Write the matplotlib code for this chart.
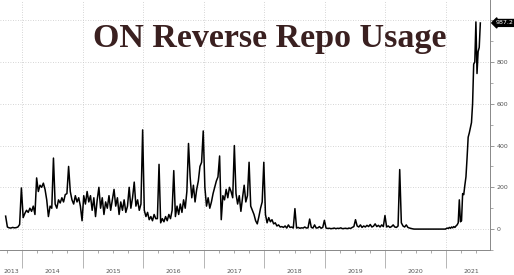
import numpy as np
import matplotlib.pyplot as plt

# ON RRP usage ($bn), roughly every 10 days
vals_2013 = [62, 10, 6, 5, 8, 6, 7, 10, 22, 197]
vals_2014 = [55, 75, 90, 80, 100, 85, 110, 70, 245, 180, 210, 200, 220, 190,
             140, 60, 110, 100, 340, 120, 100, 140, 125, 150, 130, 165, 170,
             300, 180, 140, 120, 160, 130, 150, 110, 40]
vals_2015 = [160, 120, 180, 130, 160, 90, 150, 60, 140, 200, 100, 150, 70, 130,
             100, 160, 90, 140, 190, 110, 150, 70, 130, 90, 140, 80, 110, 200,
             100, 150, 225, 110, 140, 90, 120, 475]
vals_2016 = [90, 60, 80, 45, 60, 40, 70, 50, 50, 310, 30, 50, 35, 60, 40, 70,
             50, 90, 280, 60, 110, 70, 120, 80, 140, 100, 180, 410, 250, 150,
             210, 130, 190, 230, 300, 320, 470]
vals_2017 = [200, 110, 150, 100, 130, 170, 200, 230, 250, 350, 45, 160, 140,
             190, 150, 200, 180, 150, 400, 170, 120, 160, 85, 150, 210, 130,
             160, 320, 110, 90, 70, 40, 25, 60, 100, 130, 320]
vals_2018 = [70, 30, 55, 35, 45, 25, 30, 15, 20, 10, 12, 8, 15, 5, 20, 8, 10,
             5, 98, 5, 8, 4, 6, 5, 10, 5, 6, 48, 8, 5, 20, 5, 6, 12, 4, 8, 42]
vals_2019 = [5, 3, 4, 2, 3, 5, 2, 4, 3, 6, 2, 3, 4, 2, 5, 3, 8, 12, 45, 15, 10,
             20, 8, 15, 10, 18, 12, 22, 10, 14, 25, 12, 18, 10, 20, 12, 65]
vals_2020 = [10, 15, 8, 12, 20, 10, 8, 15, 285, 30, 15, 10, 20, 8, 5, 3, 1,
             0, 0, 0, 0, 0, 0, 0, 0, 0, 0, 0, 0, 0, 0, 0, 0, 0, 0, 0, 0]
vals_2021 = [2, 5, 3, 8, 4, 10, 6, 12, 8, 15, 20, 30, 140, 35, 40, 170, 165,
             210, 250, 340, 440, 460, 485, 510, 600, 790, 800, 992, 745, 850,
             870, 987]

years = [2014, 2015, 2016, 2017, 2018, 2019, 2020]
full_years = [vals_2014, vals_2015, vals_2016, vals_2017, vals_2018,
              vals_2019, vals_2020]

dates = [np.linspace(2013.73, 2013.99, len(vals_2013))]
for y, v in zip(years, full_years):
    dates.append(y + (np.arange(len(v)) + 0.7) / len(v))
dates.append(np.linspace(2021.0, 2021.566, len(vals_2021)))
x = np.concatenate(dates)
y = np.concatenate([vals_2013] + full_years + [vals_2021])

last_value = 987.2
x0, x1 = 2013.637, 2021.723

fig = plt.figure(figsize=(5.14, 2.75), dpi=100)
ax = fig.add_axes([0.0, 0.091, 0.953, 0.909])

ax.plot(x, y, color="black", lw=1.1, zorder=3)
ax.set_xlim(x0, x1)
ax.set_ylim(-100, 1097)

# grid
for yr in range(2014, 2022):
    ax.axvline(yr, color="#c8c8c8", lw=0.6, ls=(0, (1, 2)), zorder=1)
for v in range(0, 1001, 200):
    ax.axhline(v, color="#c8c8c8", lw=0.6, ls=(0, (1, 2)), zorder=1)

for s in ["left", "top"]:
    ax.spines[s].set_visible(False)
for s in ["right", "bottom"]:
    ax.spines[s].set_color("#888888")
    ax.spines[s].set_linewidth(0.7)

# y axis on right
ax.yaxis.tick_right()
ax.set_yticks(range(0, 1001, 200))
ax.set_yticklabels(["0", "200", "400", "600", "800", ""])
ax.set_yticks(range(-100, 1001, 100), minor=True)
ax.tick_params(axis="y", which="major", length=3, width=0.6, color="#888888",
               labelsize=4.5, labelcolor="#555555", pad=2)
ax.tick_params(axis="y", which="minor", length=2, width=0.5, color="#888888")

# x axis: year separators + quarter ticks, labels centred in each year
ax.set_xticks(range(2014, 2022))
ax.set_xticklabels([])
ax.set_xticks([q for q in np.arange(2013.75, 2021.75, 0.25) if q % 1 != 0],
              minor=True)
ax.tick_params(axis="x", which="major", length=13, width=0.6, color="#aaaaaa")
ax.tick_params(axis="x", which="minor", length=2, width=0.5, color="#888888")
label_pos = [(x0 + 2014) / 2] + [yr + 0.5 for yr in range(2014, 2021)] + [2021.42]
for pos, lab in zip(label_pos, range(2013, 2022)):
    ax.text(pos, -0.085, str(lab), transform=ax.get_xaxis_transform(),
            ha="center", va="center", fontsize=4.5, color="#555555",
            clip_on=False)

# last value tag
ax.annotate(f"{last_value:.1f}", xy=(1.0, last_value),
            xycoords=("axes fraction", "data"), xytext=(4, 0),
            textcoords="offset points", ha="left", va="center",
            fontsize=4.5, color="white",
            bbox=dict(boxstyle="larrow,pad=0.15", fc="black", ec="black"),
            annotation_clip=False)

fig.text(0.525, 0.86, "ON Reverse Repo Usage", ha="center", va="center",
         fontsize=24.5, fontweight="bold", family="Liberation Serif",
         color="#3a2020")

fig.savefig("out.png", dpi=100)
